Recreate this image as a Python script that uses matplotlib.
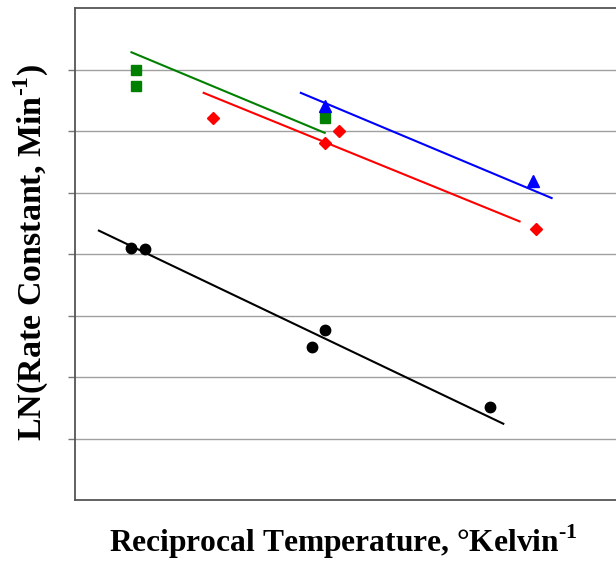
import matplotlib.pyplot as plt

plt.rcParams['font.family'] = ['Liberation Serif', 'DejaVu Serif']
plt.rcParams['mathtext.fontset'] = 'custom'
plt.rcParams['mathtext.rm'] = 'Liberation Serif'
plt.rcParams['mathtext.bf'] = 'Liberation Serif:bold'

# Data (arbitrary axis units, no tick labels shown)
black_x = [1.04, 1.29, 4.36, 4.60, 7.65]
black_y = [4.10, 4.08, 2.48, 2.76, 1.51]
black_fit_x = [0.44, 7.89]
black_fit_y = [4.38, 1.24]

green_x = [1.13, 1.13, 4.60]
green_y = [7.00, 6.73, 6.21]
green_fit_x = [1.04, 4.60]
green_fit_y = [7.28, 5.97]

red_x = [2.55, 4.60, 4.86, 8.50]
red_y = [6.21, 5.80, 6.00, 4.41]
red_fit_x = [2.37, 8.19]
red_fit_y = [6.62, 4.53]

blue_x = [4.60, 8.43]
blue_y = [6.40, 5.19]
blue_fit_x = [4.16, 8.78]
blue_fit_y = [6.62, 4.91]

fig = plt.figure(figsize=(6.16, 5.61), dpi=100)
ax = fig.add_axes([75 / 616, 1 - 500 / 561, 1 - 75 / 616 + 0.003, 492 / 561])

ax.set_xlim(0, 10)
ax.set_ylim(0, 8)

# gridlines
ax.set_yticks(range(1, 8))
ax.set_yticklabels([])
ax.set_xticks([])
ax.grid(axis='y', color='#a0a0a0', linewidth=1.0)
ax.set_axisbelow(True)
ax.tick_params(axis='y', direction='out', length=5, color='#777777', width=1)

for s in ax.spines.values():
    s.set_color('#555555')
    s.set_linewidth(1.3)

# fit lines
ax.plot(black_fit_x, black_fit_y, color='black', linewidth=1.5)
ax.plot(green_fit_x, green_fit_y, color='#008000', linewidth=1.5)
ax.plot(red_fit_x, red_fit_y, color='red', linewidth=1.5)
ax.plot(blue_fit_x, blue_fit_y, color='blue', linewidth=1.5)

# points
ax.plot(black_x, black_y, 'o', color='black', markersize=7.5, linestyle='none')
ax.plot(green_x, green_y, 's', color='#008000', markersize=7, linestyle='none')
ax.plot(red_x, red_y, 'D', color='red', markersize=6.3, linestyle='none')
ax.plot(blue_x, blue_y, '^', color='blue', markersize=8, linestyle='none')

ax.set_xlabel('Reciprocal Temperature, °Kelvin$^{\\mathbf{\u2010}\\mathbf{1}}$',
              fontsize=22.7, fontweight='bold')
ax.set_ylabel('LN(Rate Constant, Min$^{\\mathbf{\u2010}\\mathbf{1}}$)',
              fontsize=24.5, fontweight='bold')
ax.xaxis.label.set_va('baseline')
ax.yaxis.label.set_va('baseline')
ax.xaxis.set_label_coords(0.4935, -0.1065)
ax.yaxis.set_label_coords(-0.061, 0.503)

fig.savefig('out.png', dpi=100)
